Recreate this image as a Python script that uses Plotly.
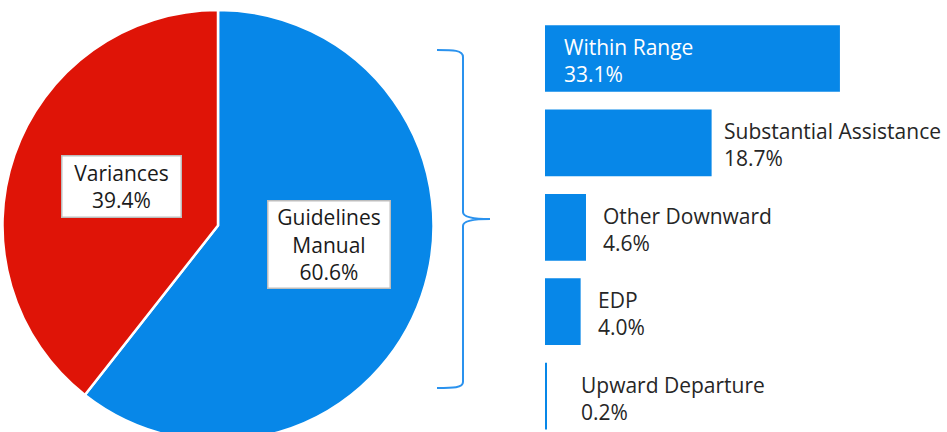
import plotly.graph_objects as go

# ---- data ----
pie_labels = ["Guidelines Manual", "Variances"]
pie_values = [60.6, 39.4]
pie_colors = ["#0787E8", "#DF1407"]

bar_labels = ["Within Range", "Substantial Assistance", "Other Downward", "EDP", "Upward Departure"]
bar_values = [33.1, 18.7, 4.6, 4.0, 0.2]
bar_color = "#0787E8"

W, H = 947, 441       # canvas; the window shows the top 432 px
TOP = 10              # top margin in px
FONT = "Open Sans"
FS = 21


def pyp(y):
    """pixel y (from top of canvas) -> paper y"""
    return (H - y) / (H - TOP)


def px(x, y):
    return f"{x / W:.5f},{pyp(y):.5f}"


fig = go.Figure()

fig.add_trace(go.Pie(
    labels=pie_labels, values=pie_values, sort=False, direction="clockwise", rotation=0,
    marker=dict(colors=pie_colors, line=dict(color="white", width=2.5)),
    textinfo="none", domain=dict(x=[0, 436 / W], y=[0, 1]), showlegend=False,
    hoverinfo="label+percent",
))

fig.add_trace(go.Bar(
    y=bar_labels, x=bar_values, orientation="h", width=0.79,
    marker=dict(color=bar_color, line=dict(width=0)), showlegend=False,
    xaxis="x", yaxis="y",
))

annotations = []
# pie labels with boxes
pie_label_box = {"Variances": (121, 186, 112, 54), "Guidelines Manual": (328.5, 245, 115, 80)}
for lab, val in zip(pie_labels, pie_values):
    cx, cy, bw, bh = pie_label_box[lab]
    annotations.append(dict(
        text=lab.replace(" ", "<br>") + f"<br>{val:.1f}%",
        x=cx / W, y=pyp(cy), xref="paper", yref="paper",
        showarrow=False, xanchor="center", yanchor="middle",
        width=bw, height=bh, align="center", valign="middle",
        font=dict(family=FONT, size=FS, color="#1a1a1a"),
        bgcolor="white", bordercolor="#BDBDBD", borderwidth=1.5, borderpad=3,
    ))

# bar labels
shifts = [17, 10, 15, 15, 32]
for i, (lab, val) in enumerate(zip(bar_labels, bar_values)):
    inside = i == 0
    annotations.append(dict(
        text=f"{lab}<br>{val:.1f}%",
        x=0 if inside else val, y=lab, xref="x", yref="y",
        showarrow=False, xanchor="left", yanchor="middle", align="left",
        xshift=shifts[i], yshift=-2,
        font=dict(family=FONT, size=FS, color="white" if inside else "#262626"),
    ))

brace = (
    f"M {px(437, 50)} C {px(453, 50)} {px(463, 50)} {px(463, 57)} "
    f"L {px(463, 212)} C {px(463, 217)} {px(474, 219)} {px(490, 219)} "
    f"C {px(474, 219)} {px(463, 221)} {px(463, 226)} "
    f"L {px(463, 382)} C {px(463, 388)} {px(453, 388)} {px(437, 388)}"
)

pitch = 84.4
first_center = 58.5 - TOP
fig.update_layout(
    width=W, height=H, margin=dict(l=0, r=0, t=TOP, b=0),
    paper_bgcolor="white", plot_bgcolor="white",
    xaxis=dict(domain=[545 / W, 1], range=[0, 402 / 8.91], visible=False, fixedrange=True),
    yaxis=dict(domain=[0, 1], range=[(H - TOP - first_center) / pitch, -first_center / pitch],
               visible=False, type="category", fixedrange=True),
    annotations=annotations,
    shapes=[dict(type="path", path=brace, xref="paper", yref="paper",
                 line=dict(color="#2A92EE", width=2))],
    font=dict(family=FONT),
)

fig.write_html(
    "out.html",
    config={"displayModeBar": False},
    post_script="document.body.style.margin='0';document.body.style.overflow='hidden';"
                "document.documentElement.style.overflow='hidden';",
)
